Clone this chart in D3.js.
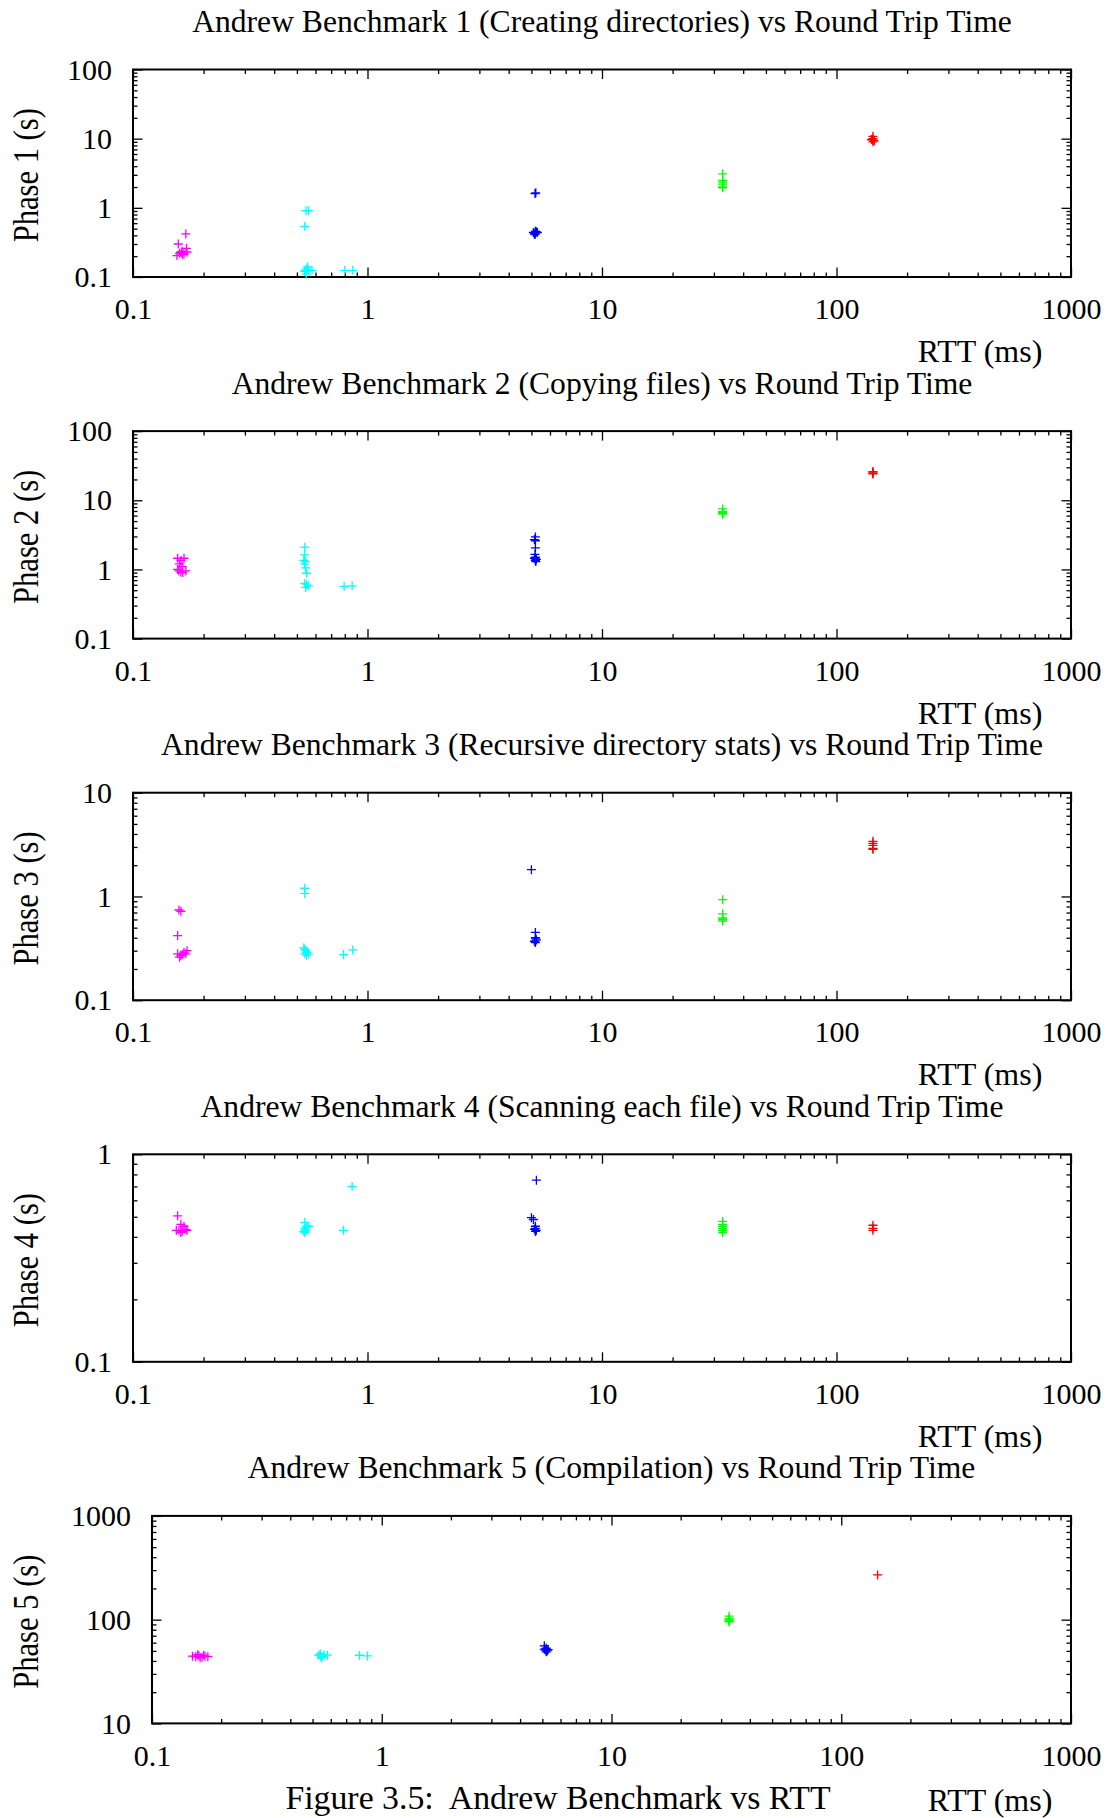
<!DOCTYPE html>
<html>
<head>
<meta charset="utf-8">
<script src="https://cdn.jsdelivr.net/npm/d3@7"></script>
<style>
  html, body { margin: 0; padding: 0; background: #fff; }
  svg { display: block; }
  text { font-family: "Liberation Serif", "Times New Roman", serif; fill: #000; }
</style>
</head>
<body>
<svg id="chart" width="1116" height="1818"></svg>
<script>
// ---------------- DATA ----------------
// series keys -> colours (gnuplot default point colours)
const seriesKeys = ["m", "c", "b", "g", "r"];
const seriesColors = ["#ff00ff", "#00ffff", "#0000ff", "#00ff00", "#ff0000"];

const titles = [
  "Andrew Benchmark 1 (Creating directories) vs Round Trip Time",
  "Andrew Benchmark 2 (Copying files) vs Round Trip Time",
  "Andrew Benchmark 3 (Recursive directory stats) vs Round Trip Time",
  "Andrew Benchmark 4 (Scanning each file) vs Round Trip Time",
  "Andrew Benchmark 5 (Compilation) vs Round Trip Time"
];
const yLabels = ["Phase 1 (s)", "Phase 2 (s)", "Phase 3 (s)", "Phase 4 (s)", "Phase 5 (s)"];
const xLabel = "RTT (ms)";
const caption = "Figure 3.5:  Andrew Benchmark vs RTT";

const xDomain = [0.1, 1000];
const xTickValues = [0.1, 1, 10, 100, 1000];
const xTickLabels = ["0.1", "1", "10", "100", "1000"];
const yDomains = [[0.1, 100], [0.1, 100], [0.1, 10], [0.1, 1], [10, 1000]];
const yTickValues = [[0.1, 1, 10, 100], [0.1, 1, 10, 100], [0.1, 1, 10], [0.1, 1], [10, 100, 1000]];
const yTickLabels = [["0.1", "1", "10", "100"], ["0.1", "1", "10", "100"], ["0.1", "1", "10"], ["0.1", "1"], ["10", "100", "1000"]];

// [series, RTT (ms), time (s)]
const phase1 = [
  ["m",0.168,0.42],["m",0.156,0.30],["m",0.161,0.224],["m",0.154,0.204],["m",0.169,0.26],
  ["m",0.170,0.23],["m",0.163,0.21],["m",0.158,0.22],["m",0.165,0.215],["m",0.162,0.235],
  ["c",0.547,0.91],["c",0.560,0.91],["c",0.540,0.54],["c",0.545,0.125],["c",0.550,0.13],
  ["c",0.540,0.12],["c",0.555,0.14],["c",0.548,0.11],["c",0.560,0.125],["c",0.580,0.125],
  ["c",0.800,0.125],["c",0.865,0.125],
  ["b",5.18,1.61],["b",5.22,1.65],["b",5.10,0.44],["b",5.20,0.43],["b",5.25,0.45],
  ["b",5.15,0.42],["b",5.30,0.44],["b",5.20,0.46],["b",5.18,0.41],
  ["g",32.7,3.1],["g",32.7,2.5],["g",32.7,2.35],["g",32.7,2.2],["g",32.7,2.0],["g",32.7,1.95],
  ["r",143,10.8],["r",143,9.5],["r",141,9.7],["r",145,9.3],["r",143,10.0],["r",143,9.0]
];
const phase2 = [
  ["m",0.155,1.45],["m",0.165,1.45],["m",0.160,1.35],["m",0.158,1.2],["m",0.162,1.1],
  ["m",0.155,1.0],["m",0.168,0.95],["m",0.160,0.92],["m",0.163,0.9],["m",0.157,0.95],
  ["c",0.540,2.1],["c",0.540,1.62],["c",0.535,1.35],["c",0.545,1.3],["c",0.540,1.2],
  ["c",0.545,1.05],["c",0.550,0.88],["c",0.540,0.63],["c",0.550,0.6],["c",0.560,0.58],["c",0.545,0.55],
  ["c",0.795,0.57],["c",0.860,0.58],
  ["b",5.20,2.95],["b",5.15,2.7],["b",5.20,2.6],["b",5.20,2.05],["b",5.18,1.65],["b",5.20,1.5],
  ["b",5.15,1.45],["b",5.25,1.4],["b",5.20,1.35],["b",5.22,1.3],["b",5.20,1.42],
  ["g",32.7,7.5],["g",32.7,6.9],["g",32.7,6.6],["g",32.7,6.3],["g",32.7,6.5],
  ["r",143,24.5],["r",143,25.5],["r",143,24],["r",143,26]
];
const phase3 = [
  ["m",0.157,0.74],["m",0.160,0.72],["m",0.155,0.42],["m",0.155,0.28],["m",0.160,0.27],
  ["m",0.165,0.29],["m",0.170,0.30],["m",0.158,0.26],["m",0.162,0.275],["m",0.168,0.28],
  ["c",0.540,1.2],["c",0.540,1.07],["c",0.540,0.31],["c",0.545,0.30],["c",0.550,0.29],
  ["c",0.540,0.28],["c",0.560,0.28],["c",0.535,0.32],["c",0.550,0.27],
  ["c",0.790,0.275],["c",0.865,0.305],
  ["b",5.00,1.81],["b",5.20,0.45],["b",5.20,0.40],["b",5.25,0.38],["b",5.15,0.37],["b",5.20,0.36],["b",5.22,0.39],
  ["g",32.7,0.93],["g",32.7,0.68],["g",32.7,0.62],["g",32.7,0.60],["g",32.7,0.58],
  ["r",143,3.4],["r",143,3.25],["r",143,3.1],["r",143,2.9],["r",143,2.85]
];
const phase4 = [
  ["m",0.155,0.505],["m",0.160,0.46],["m",0.165,0.45],["m",0.157,0.43],["m",0.162,0.425],
  ["m",0.168,0.435],["m",0.153,0.43],["m",0.160,0.42],["m",0.170,0.43],
  ["c",0.540,0.47],["c",0.550,0.45],["c",0.560,0.45],["c",0.540,0.44],["c",0.545,0.43],
  ["c",0.535,0.425],["c",0.540,0.42],
  ["c",0.790,0.43],["c",0.860,0.70],
  ["b",5.25,0.75],["b",5.00,0.495],["b",5.10,0.485],["b",5.20,0.45],["b",5.20,0.44],
  ["b",5.25,0.43],["b",5.15,0.435],["b",5.20,0.425],
  ["g",32.7,0.475],["g",32.7,0.46],["g",32.7,0.45],["g",32.7,0.44],["g",32.7,0.43],["g",32.7,0.42],
  ["r",143,0.455],["r",143,0.44],["r",143,0.43]
];
const phase5 = [
  ["m",0.155,44],["m",0.160,45],["m",0.165,43.5],["m",0.170,44.5],["m",0.158,46],
  ["m",0.162,43],["m",0.168,45.5],["m",0.150,44.5],["m",0.175,44],
  ["c",0.540,45],["c",0.550,44],["c",0.530,45.5],["c",0.545,43],["c",0.560,46],["c",0.580,45.5],["c",0.540,47],
  ["c",0.800,45.4],["c",0.867,44.7],
  ["b",5.10,56],["b",5.20,53],["b",5.15,51],["b",5.25,50],["b",5.20,49],["b",5.10,52],["b",5.30,51.5],
  ["g",32.5,108],["g",32.5,102],["g",32.5,99],["g",32.5,97],["g",32.5,95],
  ["r",144,270]
];
const phases = [phase1, phase2, phase3, phase4, phase5];

// ---------------- DRAW ----------------
const svg = d3.select("#chart");
const color = d3.scaleOrdinal().domain(seriesKeys).range(seriesColors);

const panelTop0 = 69.5, panelStep = 361.6, panelH = 207.5;
const rightX = 1071;
const leftXs = [133, 133, 133, 133, 152];
const tickFont = 30, titleFont = 31.6, xLabelFont = 32;
const majorLen = 9.5, minorLen = 4.5;

function minorTicks(domain) {
  const out = [];
  const lo = Math.round(Math.log10(domain[0])), hi = Math.round(Math.log10(domain[1]));
  for (let e = lo; e < hi; e++) {
    for (let k = 2; k <= 9; k++) out.push(k * Math.pow(10, e));
  }
  return out;
}

phases.forEach((data, i) => {
  const top = panelTop0 + i * panelStep;
  const bottom = top + panelH;
  const left = leftXs[i];
  const x = d3.scaleLog().domain(xDomain).range([left, rightX]);
  const y = d3.scaleLog().domain(yDomains[i]).range([bottom, top]);
  const g = svg.append("g");

  const xMinor = minorTicks(xDomain);
  const yMinor = minorTicks(yDomains[i]);

  function styleAxis(sel) {
    sel.select(".domain").remove();
    sel.selectAll(".tick line").attr("stroke", "#000").attr("stroke-width", 1.3);
    sel.selectAll(".tick text").style("font-size", tickFont + "px")
      .style("font-family", '"Liberation Serif", "Times New Roman", serif').attr("fill", "#000");
  }

  // bottom major (with labels)
  g.append("g").attr("transform", `translate(0,${bottom})`)
    .call(d3.axisBottom(x).tickValues(xTickValues).tickSizeInner(-majorLen).tickSizeOuter(0)
      .tickPadding(21).tickFormat((d, j) => xTickLabels[j]))
    .call(styleAxis);
  // bottom minor
  g.append("g").attr("transform", `translate(0,${bottom})`)
    .call(d3.axisBottom(x).tickValues(xMinor).tickSizeInner(-minorLen).tickSizeOuter(0).tickFormat(""))
    .call(styleAxis);
  // top major/minor (no labels)
  g.append("g").attr("transform", `translate(0,${top})`)
    .call(d3.axisTop(x).tickValues(xTickValues).tickSizeInner(-majorLen).tickSizeOuter(0).tickFormat(""))
    .call(styleAxis);
  g.append("g").attr("transform", `translate(0,${top})`)
    .call(d3.axisTop(x).tickValues(xMinor).tickSizeInner(-minorLen).tickSizeOuter(0).tickFormat(""))
    .call(styleAxis);
  // left major (with labels)
  g.append("g").attr("transform", `translate(${left},0)`)
    .call(d3.axisLeft(y).tickValues(yTickValues[i]).tickSizeInner(-majorLen).tickSizeOuter(0)
      .tickPadding(21).tickFormat((d, j) => yTickLabels[i][j]))
    .call(styleAxis);
  g.append("g").attr("transform", `translate(${left},0)`)
    .call(d3.axisLeft(y).tickValues(yMinor).tickSizeInner(-minorLen).tickSizeOuter(0).tickFormat(""))
    .call(styleAxis);
  // right
  g.append("g").attr("transform", `translate(${rightX},0)`)
    .call(d3.axisRight(y).tickValues(yTickValues[i]).tickSizeInner(-majorLen).tickSizeOuter(0).tickFormat(""))
    .call(styleAxis);
  g.append("g").attr("transform", `translate(${rightX},0)`)
    .call(d3.axisRight(y).tickValues(yMinor).tickSizeInner(-minorLen).tickSizeOuter(0).tickFormat(""))
    .call(styleAxis);

  // frame
  g.append("rect").attr("x", left).attr("y", top)
    .attr("width", rightX - left).attr("height", bottom - top)
    .attr("fill", "none").attr("stroke", "#000").attr("stroke-width", 2);

  // points (+ markers)
  const r = 4.5;
  g.append("g").selectAll("path").data(data).join("path")
    .attr("transform", d => `translate(${x(d[1])},${y(d[2])})`)
    .attr("d", `M${-r},0H${r}M0,${-r}V${r}`)
    .attr("fill", "none")
    .attr("stroke", d => color(d[0]))
    .attr("stroke-width", 1.3);

  // title
  g.append("text").attr("x", (left + rightX) / 2).attr("y", top - 37.5)
    .attr("text-anchor", "middle").style("font-size", titleFont + "px").text(titles[i]);

  // y label (stretched, rotated)
  g.append("text")
    .attr("transform", `translate(38,${(top + bottom) / 2 + 2}) rotate(-90) scale(1.02,1.2)`)
    .attr("text-anchor", "middle").style("font-size", "30px").text(yLabels[i]);

  // x label
  if (i < 4) {
    g.append("text").attr("x", 980).attr("y", bottom + 85)
      .attr("text-anchor", "middle").style("font-size", xLabelFont + "px").text(xLabel);
  } else {
    g.append("text").attr("x", 990).attr("y", 1811)
      .attr("text-anchor", "middle").style("font-size", xLabelFont + "px").text(xLabel);
  }
});

// caption
svg.append("text").attr("x", 558).attr("y", 1809).attr("text-anchor", "middle")
  .style("font-size", "33.8px").style("white-space", "pre").text(caption);
</script>
</body>
</html>
